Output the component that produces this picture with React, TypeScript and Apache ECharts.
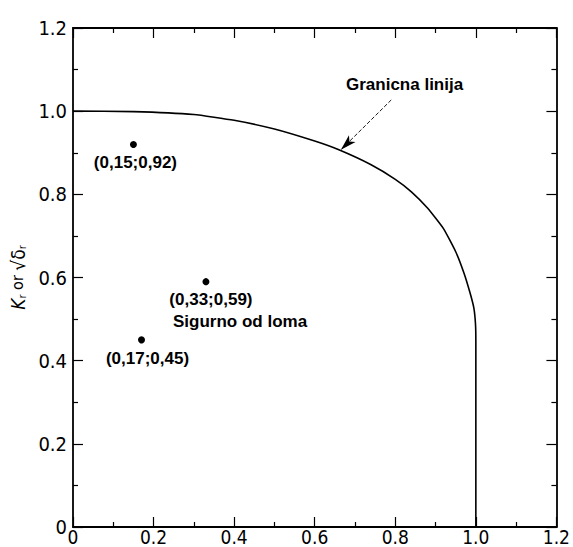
import React, { useEffect, useRef } from "react";
import * as echarts from "echarts";

// Failure assessment (limit) curve: [Lr, Kr]
const curveLr = [0, 0.15, 0.3, 0.4, 0.5, 0.6, 0.66, 0.74, 0.8, 0.84, 0.88, 0.92, 0.95, 0.97, 0.985, 0.995, 0.999, 1.0, 1.0];
const curveKr = [1.0, 0.999, 0.992, 0.978, 0.957, 0.928, 0.907, 0.871, 0.836, 0.806, 0.767, 0.717, 0.662, 0.612, 0.565, 0.527, 0.49, 0.45, 0];

// Assessed points
const pointX = [0.15, 0.33, 0.17];
const pointY = [0.92, 0.59, 0.45];
const pointLabels = ["(0,15;0,92)", "(0,33;0,59)", "(0,17;0,45)"];
const pointLabelOffsets = [[2, 0], [5, 0], [6, 1]];

// Arrow from label to curve [Lr, Kr]
const arrowFrom = [0.79, 1.027];
const arrowTo = [0.665, 0.907];

const tickLabelFont = "'Liberation Sans Narrow', 'DejaVu Sans Condensed', 'Liberation Sans', sans-serif";
const annFont = "'Liberation Sans', Arial, sans-serif";

export default function App() {
  const ref = useRef<HTMLDivElement>(null);
  useEffect(() => {
    if (!ref.current) return;
    const chart = echarts.init(ref.current, null, { renderer: "svg" });
    const axisCommon = {
      type: "value",
      min: 0,
      max: 1.2,
      interval: 0.2,
      splitLine: { show: false },
      axisLine: { show: true, onZero: false, lineStyle: { color: "#000", width: 1.8 } },
      axisTick: { show: true, inside: true, length: 10, lineStyle: { color: "#000", width: 1.2 } },
      minorTick: { show: true, splitNumber: 2, length: 5, lineStyle: { color: "#000", width: 1.2 } },
    };
    const fmt = (v: number) => (v === 0 ? "0" : v.toFixed(1));
    chart.setOption({
      animation: false,
      backgroundColor: "#fff",
      grid: { left: 72, right: 16, top: 28, bottom: 20, containLabel: false },
      xAxis: [
        {
          ...axisCommon,
          position: "bottom",
          axisLabel: {
            color: "#000",
            fontFamily: tickLabelFont,
            fontSize: 19,
            lineHeight: 18,
            margin: 1,
            formatter: fmt,
          },
        },
        { ...axisCommon, position: "top", axisLabel: { show: false } },
      ],
      yAxis: [
        {
          ...axisCommon,
          position: "left",
          axisLabel: {
            color: "#000",
            fontFamily: tickLabelFont,
            fontSize: 20,
            lineHeight: 16,
            margin: 6,
            formatter: fmt,
          },
          name: "{k|K}{s|r}{t| or }{q|√δ}{s|r}",
          nameLocation: "middle",
          nameGap: 42,
          nameRotate: 90,
          nameTextStyle: {
            rich: {
              k: { fontFamily: tickLabelFont, fontStyle: "italic", fontSize: 19, color: "#000" },
              s: { fontFamily: tickLabelFont, fontSize: 11, color: "#000", padding: [9, 0, 0, 0] },
              t: { fontFamily: tickLabelFont, fontSize: 16, color: "#000" },
              q: { fontFamily: tickLabelFont, fontSize: 19, color: "#000" },
            },
          },
        },
        { ...axisCommon, position: "right", axisLabel: { show: false } },
      ],
      series: [
        {
          type: "line",
          data: curveLr.map((x, i) => [x, curveKr[i]]),
          showSymbol: false,
          symbol: "none",
          smooth: 0.15,
          lineStyle: { color: "#000", width: 1.6 },
          silent: true,
          markLine: {
            silent: true,
            symbol: ["none", "arrow"],
            symbolSize: [7, 16],
            label: { show: false },
            lineStyle: { color: "#000", width: 0.9, type: [4, 2] },
            data: [[{ coord: arrowFrom }, { coord: arrowTo }]],
          },
        },
        {
          type: "scatter",
          symbol: "circle",
          symbolSize: 7,
          itemStyle: { color: "#000", opacity: 1 },
          data: pointX.map((x, i) => ({
            value: [x, pointY[i]],
            label: {
              show: true,
              position: "bottom",
              distance: 6,
              offset: pointLabelOffsets[i],
              formatter: pointLabels[i],
              color: "#000",
              opacity: 1,
              fontFamily: annFont,
              fontWeight: "bold",
              fontSize: 17,
            },
          })),
        },
      ],
      graphic: [
        {
          type: "text",
          left: 346,
          top: 76,
          style: { text: "Granicna linija", fill: "#000", font: `bold 17px ${annFont}` },
        },
        {
          type: "text",
          left: 173,
          top: 313,
          style: { text: "Sigurno od loma", fill: "#000", font: `bold 17px ${annFont}` },
        },
      ],
    });
    return () => chart.dispose();
  }, []);
  return (
    <div
      ref={ref}
      style={{ position: "absolute", left: 0, top: 0, width: 573, height: 547 }}
    />
  );
}
